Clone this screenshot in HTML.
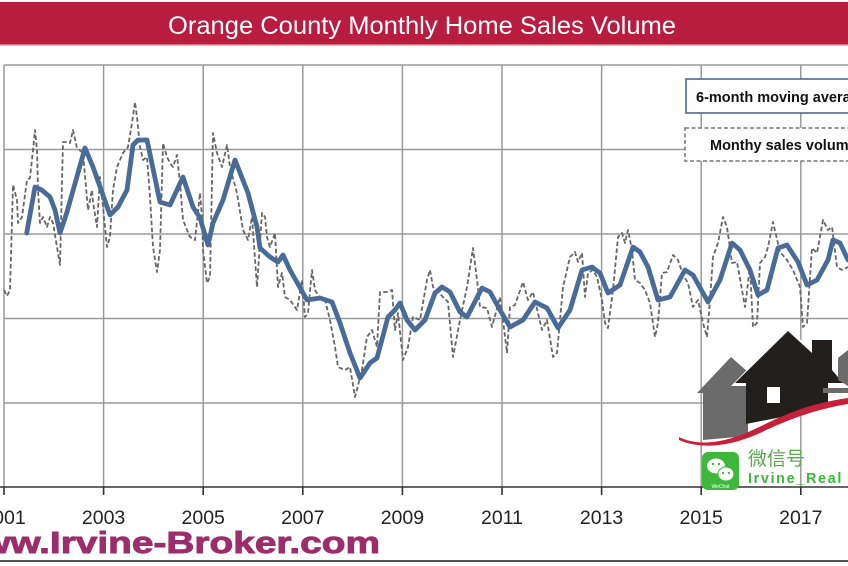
<!DOCTYPE html>
<html><head><meta charset="utf-8"><style>
html,body{margin:0;padding:0;background:#fff;}
svg{display:block;}
</style></head><body>
<svg width="848" height="566" viewBox="0 0 848 566" xmlns="http://www.w3.org/2000/svg">
<rect x="0" y="0" width="848" height="566" fill="#fff"/>
<!-- title bar -->
<rect x="0" y="2" width="848" height="43" fill="#B81C3E"/>
<rect x="0" y="44" width="848" height="1.5" fill="#d9707f"/>
<text x="168" y="34" font-family="Liberation Sans, sans-serif" font-size="25" fill="#fff" textLength="508" lengthAdjust="spacingAndGlyphs">Orange County Monthly Home Sales Volume</text>

<!-- grid -->
<g stroke="#9a9a9a" stroke-width="1.5" fill="none">
<line x1="4" y1="65" x2="848" y2="65"/>
<line x1="4" y1="149.5" x2="848" y2="149.5"/>
<line x1="4" y1="234" x2="848" y2="234"/>
<line x1="4" y1="318.5" x2="848" y2="318.5"/>
<line x1="4" y1="403" x2="848" y2="403"/>
<line x1="4" y1="65" x2="4" y2="487"/>
<line x1="103.6" y1="65" x2="103.6" y2="487"/>
<line x1="203.2" y1="65" x2="203.2" y2="487"/>
<line x1="302.8" y1="65" x2="302.8" y2="487"/>
<line x1="402.4" y1="65" x2="402.4" y2="487"/>
<line x1="502" y1="65" x2="502" y2="487"/>
<line x1="601.6" y1="65" x2="601.6" y2="487"/>
<line x1="701.2" y1="65" x2="701.2" y2="487"/>
<line x1="800.8" y1="65" x2="800.8" y2="487"/>
</g>
<!-- x axis -->
<g stroke="#333" stroke-width="1.6">
<line x1="0" y1="487" x2="848" y2="487"/>
<line x1="4" y1="487" x2="4" y2="495"/>
<line x1="103.6" y1="487" x2="103.6" y2="495"/>
<line x1="203.2" y1="487" x2="203.2" y2="495"/>
<line x1="302.8" y1="487" x2="302.8" y2="495"/>
<line x1="402.4" y1="487" x2="402.4" y2="495"/>
<line x1="502" y1="487" x2="502" y2="495"/>
<line x1="601.6" y1="487" x2="601.6" y2="495"/>
<line x1="701.2" y1="487" x2="701.2" y2="495"/>
<line x1="800.8" y1="487" x2="800.8" y2="495"/>
</g>
<g font-family="Liberation Sans, sans-serif" font-size="19.5" fill="#222" text-anchor="middle">
<text x="4" y="524">2001</text>
<text x="103.6" y="524">2003</text>
<text x="203.2" y="524">2005</text>
<text x="302.8" y="524">2007</text>
<text x="402.4" y="524">2009</text>
<text x="502" y="524">2011</text>
<text x="601.6" y="524">2013</text>
<text x="701.2" y="524">2015</text>
<text x="800.8" y="524">2017</text>
</g>

<!-- monthly dashed -->
<polyline fill="none" stroke="#666" stroke-width="1.8" stroke-dasharray="4.5 2.5" stroke-linejoin="round" points="4,290 7,296 10,290 13,185 17,200 18,223 22,217 27,180 30,178 33,150 35,130 37,150 38,190 40,223 43,217 47,227 50,217 53,223 57,247 60,265 63,142 67,142 70,143 73,130 77,148 83,153 88,210 92,190 93,202 97,227 100,177 103,207 107,247 110,237 113,190 117,167 123,153 128,147 132,123 135,102 137,117 140,147 143,160 147,157 150,197 153,247 157,272 160,250 163,143 167,157 170,163 173,167 177,155 180,183 183,220 190,237 195,240 200,193 202,217 203,250 207,283 210,277 213,133 217,153 222,167 227,145 230,167 237,193 243,230 248,240 252,217 257,287 262,213 265,217 267,237 270,247 275,233 278,287 282,273 285,297 290,300 297,310 302,280 305,317 308,313 312,270 315,290 320,298 325,300 330,320 335,347 338,367 345,370 350,367 355,397 362,370 367,337 372,330 377,347 380,292 387,292 392,290 395,330 398,313 403,360 408,347 413,317 420,320 427,280 430,270 433,287 443,297 448,302 453,357 460,320 467,287 473,248 477,280 480,307 487,308 492,327 500,297 503,320 507,353 510,307 515,305 523,282 528,300 533,292 542,330 547,320 553,357 557,353 563,287 570,257 575,252 578,262 582,253 585,297 588,273 593,270 597,277 602,300 605,323 608,328 613,290 618,237 622,233 625,243 628,230 632,250 635,280 640,283 645,290 650,303 655,337 658,323 662,273 667,272 673,255 678,260 683,275 688,283 693,307 698,300 703,323 707,337 710,300 713,257 718,243 723,217 727,227 732,263 737,262 742,290 745,307 750,267 753,327 757,323 760,263 765,257 768,247 773,222 780,252 787,260 793,270 800,287 803,327 807,323 812,248 817,253 823,220 828,230 832,227 837,267 842,270 848,267"/>

<!-- moving average -->
<polyline fill="none" stroke="#4A6B98" stroke-width="4.8" stroke-linejoin="round" stroke-linecap="round" points="26.7,233 35,187 41.7,190 50,197 55,210 60,233 66.7,213 85,148 93,167 110,215 118,207 127,190 133,145 138,140 147,140 160,202 170,205 183,177 193,207 200,218 208,245 213,223 223,200 235,160 248,193 257,227 260,248 270,257 278,262 283,255 290,270 307,300 320,298 332,302 340,323 350,353 360,378 370,363 377,358 388,317 395,310 400,303 407,320 415,330 425,320 435,293 442,287 450,292 460,312 467,317 482,288 490,292 500,310 510,327 523,320 535,302 547,308 558,328 570,310 573,300 582,270 592,267 600,273 608,293 620,285 633,247 640,252 648,267 658,300 670,297 685,270 693,275 708,302 720,280 732,243 740,250 750,270 758,295 767,290 778,248 787,245 798,262 807,285 817,280 828,260 833,240 840,243 848,260"/>

<!-- legend boxes -->
<rect x="686" y="79" width="170" height="34" fill="#fff" stroke="#4A6B98" stroke-width="1.6"/>
<text x="696" y="102" font-family="Liberation Sans, sans-serif" font-size="14.5" font-weight="bold" fill="#111">6-month moving average</text>
<rect x="685" y="128" width="170" height="33" fill="#fff" stroke="#777" stroke-width="1.5" stroke-dasharray="4 2.5"/>
<text x="710" y="150" font-family="Liberation Sans, sans-serif" font-size="14.5" font-weight="bold" fill="#111">Monthy sales volume</text>

<!-- house logo watermark -->
<polygon points="697,393 731,357 748,372 748,436 703,440 703,393" fill="#6b6b6b"/>
<polygon points="731,386 788,328 812,350 812,337 834,337 834,371 846,386" fill="#fff"/>
<polygon points="735,383 788,331 812,353 812,340 832,340 832,370 843,383 828,383 828,408 746,424 746,383" fill="#231f1d"/>
<rect x="767" y="387" width="13" height="16" fill="#fff"/>
<polygon points="838,358 848,350 848,386 838,380" fill="#6b6b6b"/>
<rect x="823" y="388" width="25" height="5" fill="#6b6b6b"/>
<path d="M679,437 C695,445 720,446 757,428 C780,417 805,404 848,398 L848,404 C812,410 785,421 760,433 C725,449 697,448 679,440 Z" fill="#C8203A"/>

<!-- wechat -->
<rect x="702" y="452" width="37" height="38" rx="6" fill="#3DB83A"/>
<ellipse cx="716" cy="466" rx="9" ry="7.5" fill="#fff"/>
<ellipse cx="726" cy="474" rx="8" ry="7" fill="#fff" stroke="#3DB83A" stroke-width="1"/>
<circle cx="713" cy="464" r="1.2" fill="#3DB83A"/>
<circle cx="719" cy="464" r="1.2" fill="#3DB83A"/>
<circle cx="723" cy="473" r="1.1" fill="#3DB83A"/>
<circle cx="729" cy="473" r="1.1" fill="#3DB83A"/>
<text x="720.5" y="488" font-family="Liberation Sans, sans-serif" font-size="5" fill="#fff" text-anchor="middle">WeChat</text>
<text x="748" y="465" font-family="Liberation Sans, 'Noto Sans CJK SC', sans-serif" font-size="19" fill="#5BA84B">微信号</text>
<text x="748" y="483" font-family="Liberation Sans, sans-serif" font-size="14.5" font-weight="bold" fill="#3DB83A" letter-spacing="1.6">Irvine_Real</text>

<!-- footer -->
<text x="-50" y="553" font-family="Liberation Sans, sans-serif" font-size="31" font-weight="bold" fill="#9C2D6B" stroke="#9C2D6B" stroke-width="0.9" textLength="430" lengthAdjust="spacingAndGlyphs">www.Irvine-Broker.com</text>
<rect x="0" y="560" width="848" height="2" fill="#555"/>
</svg>
</body></html>
